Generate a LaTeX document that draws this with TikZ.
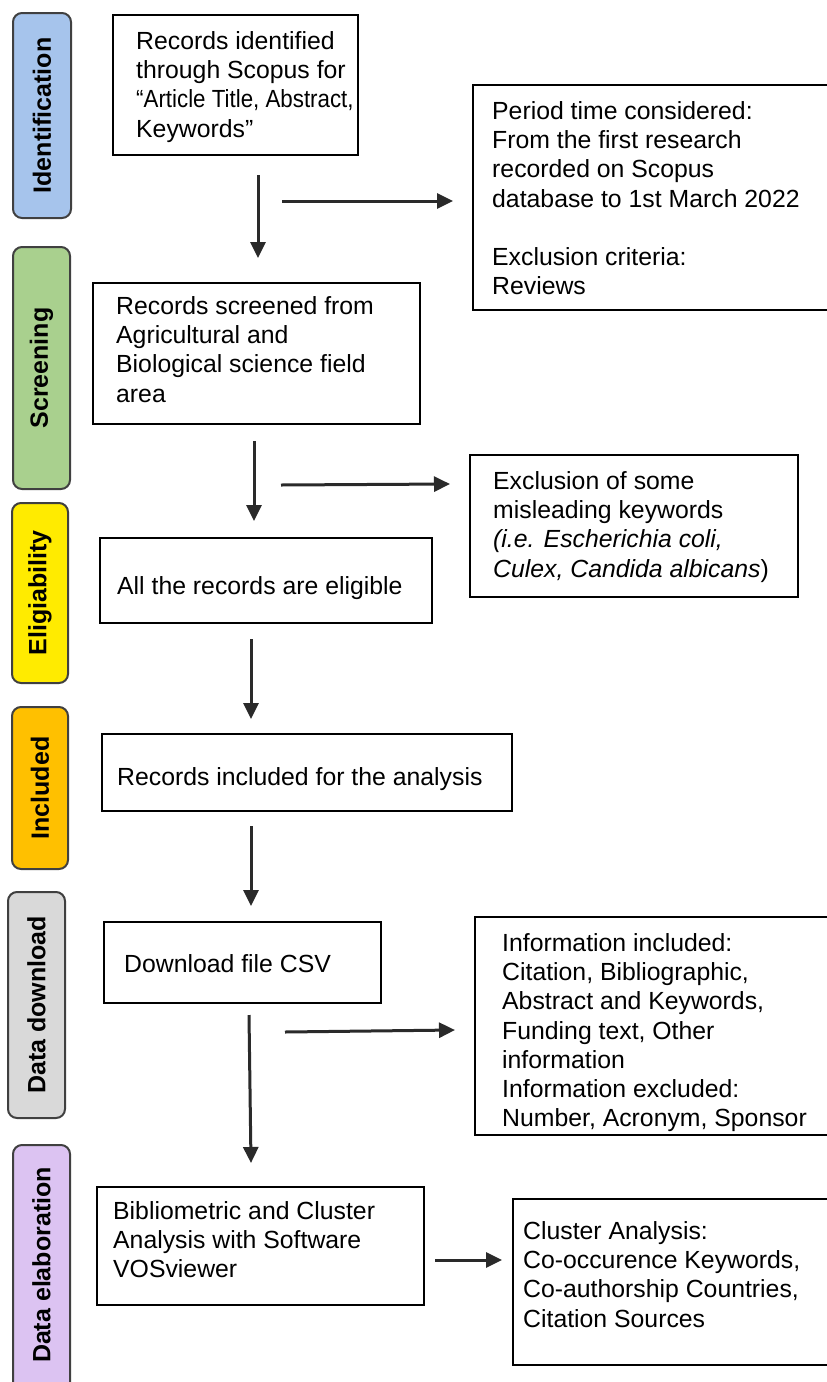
\documentclass[tikz,border=0pt]{standalone}
\usepackage{fontspec}
\usepackage{graphicx}
\setmainfont{Liberation Sans}
\usetikzlibrary{arrows.meta}
\definecolor{cblue}{HTML}{A6C4EC}
\definecolor{cgreen}{HTML}{A9D08E}
\definecolor{cyellow}{HTML}{FFEB00}
\definecolor{corange}{HTML}{FFC000}
\definecolor{cgray}{HTML}{D9D9D9}
\definecolor{cviolet}{HTML}{DCC3F2}
\definecolor{arrowc}{HTML}{2A2A2A}
\tikzset{
  box/.style={draw=black, line width=2.5pt, fill=white},
  stage/.style={draw=black!75, line width=2pt, rounded corners=9pt},
  stagetxt/.style={rotate=90, font=\fontsize{25}{30}\selectfont\bfseries, inner sep=0pt},
  txt/.style={anchor=north west, inner sep=0pt, align=left, font=\fontsize{24.8}{29.3}\selectfont},
  arr/.style={draw=arrowc, line width=3pt, -{Triangle[length=16pt,width=15pt]}}
}
\begin{document}
\begin{tikzpicture}[x=1pt,y=-1pt]
\useasboundingbox (0,0) rectangle (827,1382);
% stage labels
\draw[stage, fill=cblue] (13,13) rectangle (71,218);
\node[stagetxt] (s1) at (42,115.5) {Identification};
\draw[stage, fill=cgreen] (13,247) rectangle (70,489);
\node[stagetxt] (s2) at (41.5,368) {Screening};
\draw[stage, fill=cyellow] (12,503) rectangle (68,683);
\node[stagetxt] (s3) at (40,593) {Eligiability};
\draw[stage, fill=corange] (12,707) rectangle (68,869);
\node[stagetxt] (s4) at (40,788) {Included};
\draw[stage, fill=cgray] (8,892) rectangle (65,1118);
\node[stagetxt] (s5) at (36.5,1005) {Data download};
\draw[stage, fill=cviolet] (13,1145) rectangle (70,1395);
\node[stagetxt] (s6) at (41.5,1265) {Data elaboration};
% boxes
\draw[box] (113,15) rectangle (358,155);
\node[txt] (b1) at (136,31) {Records identified\\through Scopus for\\\scalebox{0.9}[1]{“Article Title, Abstract,}\\Keywords”};
\draw[box] (473,85) rectangle (835,310);
\node[txt] (r1) at (492,101) {Period time considered:\\From the first research\\recorded on Scopus\\database to 1st March 2022\\[29.3pt]Exclusion criteria:\\Reviews};
\draw[box] (93,283) rectangle (420,424);
\node[txt] (b2) at (116,296) {Records screened from\\Agricultural and\\Biological science field\\area};
\draw[box] (470,455) rectangle (798,597);
\node[txt] (r2) at (493,471) {Exclusion of some\\misleading keywords\\\textit{(i.e. Escherichia coli,}\\\textit{Culex, Candida albicans})};
\draw[box] (100,538) rectangle (432,623);
\node[txt] (b3) at (117,576) {All the records are eligible};
\draw[box] (102,734) rectangle (512,811);
\node[txt] (b4) at (117,767) {Records included for the analysis};
\draw[box] (104,922) rectangle (381,1003);
\node[txt] (b5) at (124,954) {Download file CSV};
\draw[box] (475,917) rectangle (835,1135);
\node[txt] (r3) at (502,933) {Information included:\\Citation, Bibliographic,\\Abstract and Keywords,\\Funding text, Other\\information\\Information excluded:\\Number, Acronym, Sponsor};
\draw[box] (97,1187) rectangle (424,1305);
\node[txt] (b6) at (113,1201) {Bibliometric and Cluster\\Analysis with Software\\VOSviewer};
\draw[box] (513,1199) rectangle (835,1365);
\node[txt] (r4) at (523,1221) {Cluster Analysis:\\Co-occurence Keywords,\\Co-authorship Countries,\\Citation Sources};
% arrow end points
\coordinate (a1s) at (258,175); \coordinate (a1e) at (258,258);
\coordinate (a2s) at (282,201); \coordinate (a2e) at (453,201);
\coordinate (a3s) at (254,441); \coordinate (a3e) at (254,521);
\coordinate (a4s) at (281,485); \coordinate (a4e) at (450,484);
\coordinate (a5s) at (251,639); \coordinate (a5e) at (251,719);
\coordinate (a6s) at (251,826); \coordinate (a6e) at (251,906);
\coordinate (a7s) at (285,1032); \coordinate (a7e) at (455,1030);
\coordinate (a8s) at (249,1015); \coordinate (a8e) at (251,1163);
\coordinate (a9s) at (435,1260); \coordinate (a9e) at (502,1260);
\draw[arr] (a1s) -- (a1e);
\draw[arr] (a2s) -- (a2e);
\draw[arr] (a3s) -- (a3e);
\draw[arr] (a4s) -- (a4e);
\draw[arr] (a5s) -- (a5e);
\draw[arr] (a6s) -- (a6e);
\draw[arr] (a7s) -- (a7e);
\draw[arr] (a8s) -- (a8e);
\draw[arr] (a9s) -- (a9e);
\end{tikzpicture}
\end{document}
